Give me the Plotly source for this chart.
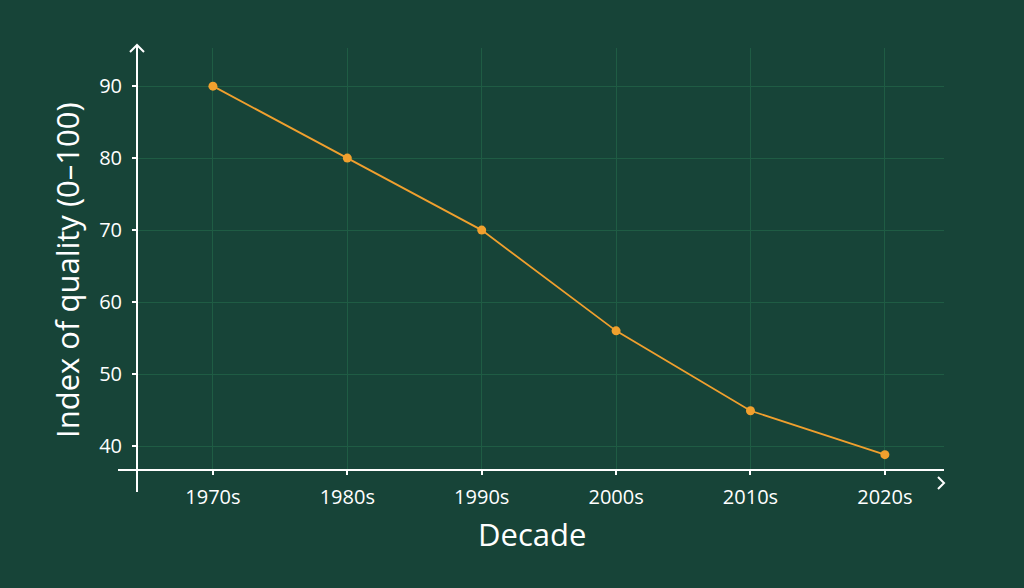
import plotly.graph_objects as go

decades = ["1970s", "1980s", "1990s", "2000s", "2010s", "2020s"]
quality = [90, 80, 70, 56, 44.9, 38.8]
y_ticks = [40, 50, 60, 70, 80, 90]

BG = "#174438"
GRID = "#1f5c44"
LINE = "#f0a02e"
WHITE = "#ffffff"
FONT = "Open Sans"

fig = go.Figure()
fig.add_trace(go.Scatter(
    x=list(range(len(decades))), y=quality, mode="lines+markers",
    line=dict(color=LINE, width=1.8),
    marker=dict(color=LINE, size=9),
    hoverinfo="skip", showlegend=False,
))

fig.update_layout(
    width=1024, height=588,
    paper_bgcolor=BG, plot_bgcolor=BG,
    margin=dict(l=137, r=80, t=48, b=118),
    font=dict(family=FONT, color=WHITE, size=20),
    xaxis=dict(
        range=[-0.565, 5.44], tickmode="array",
        tickvals=list(range(len(decades))), ticktext=decades,
        showgrid=True, gridcolor=GRID, gridwidth=1,
        zeroline=False, showline=False,
        ticks="outside", ticklen=4, tickcolor=WHITE, tickwidth=2,
        ticklabelstandoff=5,
        tickfont=dict(size=20, color=WHITE, family=FONT),
    ),
    yaxis=dict(
        range=[36.67, 95.3], tickmode="array", tickvals=y_ticks,
        showgrid=True, gridcolor=GRID, gridwidth=1,
        zeroline=False, showline=False,
        ticks="outside", ticklen=4, tickcolor=WHITE, tickwidth=2,
        ticklabelstandoff=6,
        tickfont=dict(size=20, color=WHITE, family=FONT),
    ),
)

pw = 1024 - 137 - 80
ph = 588 - 48 - 118
def px(x):
    return (x - 137) / pw
def py(y):
    return (588 - 118 - y) / ph

shapes = [
    dict(type="line", xref="paper", yref="paper", x0=px(118), x1=px(944), y0=py(470), y1=py(470),
         line=dict(color=WHITE, width=2)),
    dict(type="line", xref="paper", yref="paper", x0=px(137), x1=px(137), y0=py(492), y1=py(45),
         line=dict(color=WHITE, width=2)),
    dict(type="path", xref="paper", yref="paper",
         path=f"M {px(130)} {py(52)} L {px(137)} {py(45)} L {px(144)} {py(52)}",
         line=dict(color=WHITE, width=2)),
    dict(type="path", xref="paper", yref="paper",
         path=f"M {px(938)} {py(477)} L {px(944)} {py(483)} L {px(938)} {py(489)}",
         line=dict(color=WHITE, width=2)),
]
fig.update_layout(shapes=shapes)

fig.add_annotation(text="Index of quality (0–100)", xref="paper", yref="paper",
                   x=px(67), y=py(270), textangle=-90, showarrow=False,
                   xanchor="center", yanchor="middle",
                   font=dict(size=31, color=WHITE, family=FONT))
fig.add_annotation(text="Decade", xref="paper", yref="paper",
                   x=px(532), y=py(534), showarrow=False,
                   xanchor="center", yanchor="middle",
                   font=dict(size=31, color=WHITE, family=FONT))

fig.write_html("out.html", config={"displayModeBar": False},
               post_script="document.body.style.margin='0';document.body.style.background='#174438';")
